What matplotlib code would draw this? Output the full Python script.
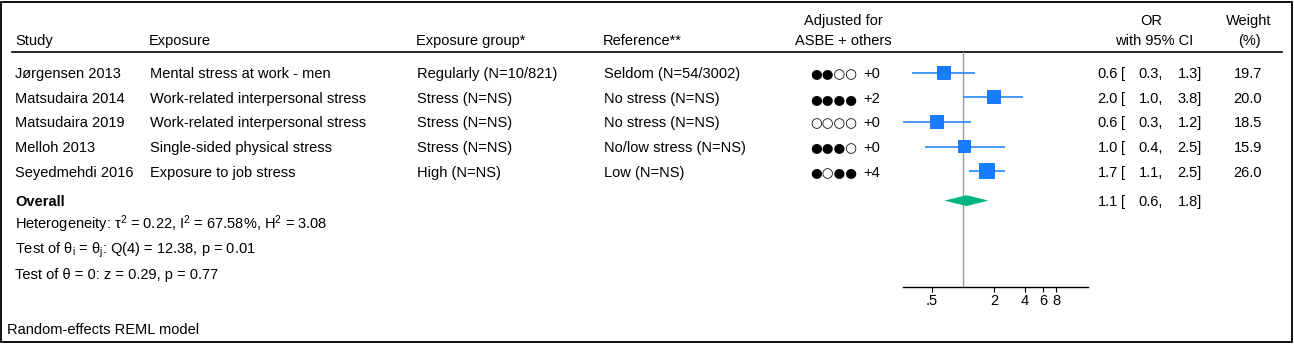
import numpy as np
import matplotlib
matplotlib.use("Agg")
import matplotlib.pyplot as plt
from matplotlib.patches import Rectangle

plt.rcParams['font.family'] = ['Liberation Sans', 'DejaVu Sans']
plt.rcParams['font.size'] = 10.5
plt.rcParams['mathtext.fontset'] = 'custom'
plt.rcParams['mathtext.rm'] = 'Liberation Sans'
plt.rcParams['mathtext.it'] = 'Liberation Sans:italic'

# ==============================
# Data
# ==============================
studies = ["Jørgensen 2013", "Matsudaira 2014", "Matsudaira 2019",
           "Melloh 2013", "Seyedmehdi 2016"]
exposures = ["Mental stress at work - men", "Work-related interpersonal stress",
             "Work-related interpersonal stress", "Single-sided physical stress",
             "Exposure to job stress"]
exp_groups = ["Regularly (N=10/821)", "Stress (N=NS)", "Stress (N=NS)",
              "Stress (N=NS)", "High (N=NS)"]
references = ["Seldom (N=54/3002)", "No stress (N=NS)", "No stress (N=NS)",
              "No/low stress (N=NS)", "Low (N=NS)"]
adj_dots = ["●●○○", "●●●●", "○○○○", "●●●○", "●○●●"]
adj_extra = ["+0", "+2", "+0", "+0", "+4"]

# estimates (log scale)
or_est = [0.65, 1.99, 0.56, 1.04, 1.70]
ci_lo = [0.32, 1.00, 0.26, 0.43, 1.15]
ci_hi = [1.30, 3.85, 1.19, 2.54, 2.54]
weights = [19.7, 20.0, 18.5, 15.9, 26.0]

# printed values
or_txt = ["0.6", "2.0", "0.6", "1.0", "1.7"]
lo_txt = ["0.3", "1.0", "0.3", "0.4", "1.1"]
hi_txt = ["1.3", "3.8", "1.2", "2.5", "2.5"]
wt_txt = ["19.7", "20.0", "18.5", "15.9", "26.0"]

overall_est, overall_lo, overall_hi = 1.08, 0.66, 1.77
overall_txt = ["1.1", "0.6", "1.8"]

xticks = [0.5, 2, 4, 6, 8]
xtick_labels = [".5", "2", "4", "6", "8"]

het_lines = [
    r"Heterogeneity: τ$^{2}$ = 0.22, I$^{2}$ = 67.58%, H$^{2}$ = 3.08",
    r"Test of θ$_{\mathrm{i}}$ = θ$_{\mathrm{j}}$: Q(4) = 12.38, p = 0.01",
    "Test of θ = 0: z = 0.29, p = 0.77",
]

# ==============================
# Layout (pixels)
# ==============================
W, H = 1294, 344
ROW0, ROWH = 72.7, 24.6
OVERALL_ROW = 5.2
BASE = 5.4  # baseline offset below row centre

fig = plt.figure(figsize=(W / 100, H / 100), dpi=100)
bg = fig.add_axes([0, 0, 1, 1])
bg.set_xlim(0, W)
bg.set_ylim(H, 0)
bg.axis("off")

# outer frame
fig.patches.append(Rectangle((1 / W, 2 / H), (W - 3) / W, (H - 4) / H,
                             transform=fig.transFigure, fill=False,
                             edgecolor="black", lw=1.3))

# header
hdr_base = 45
bg.text(15, hdr_base, "Study", va="baseline")
bg.text(149, hdr_base, "Exposure", va="baseline")
bg.text(416, hdr_base, "Exposure group*", va="baseline")
bg.text(603, hdr_base, "Reference**", va="baseline")
bg.text(843, 25, "Adjusted for", va="baseline", ha="center")
bg.text(843, hdr_base, "ASBE + others", va="baseline", ha="center")
bg.text(1151, 25, "OR", va="baseline", ha="center")
bg.text(1154, hdr_base, "with 95% CI", va="baseline", ha="center")
bg.text(1249, 25, "Weight", va="baseline", ha="center")
bg.text(1249, hdr_base, "(%)", va="baseline", ha="center")
bg.plot([12, 1282], [52, 52], color="black", lw=1.2)


def or_cells(y, est, lo, hi):
    bg.text(1118, y, est, va="baseline", ha="right")
    bg.text(1121, y, "[", va="baseline", ha="left")
    bg.text(1163, y, lo + ",", va="baseline", ha="right")
    bg.text(1202, y, hi + "]", va="baseline", ha="right")


for i in range(len(studies)):
    y = ROW0 + i * ROWH + BASE
    bg.text(15, y, studies[i], va="baseline")
    bg.text(150, y, exposures[i], va="baseline")
    bg.text(417, y, exp_groups[i], va="baseline")
    bg.text(604, y, references[i], va="baseline")
    bg.text(857.5, y + 0.3, adj_dots[i], va="baseline", ha="right",
            fontsize=9.7, family="DejaVu Sans")
    bg.text(880, y, adj_extra[i], va="baseline", ha="right")
    or_cells(y, or_txt[i], lo_txt[i], hi_txt[i])
    bg.text(1248, y, wt_txt[i], va="baseline", ha="center")

y_ov = ROW0 + OVERALL_ROW * ROWH + BASE
bg.text(15, y_ov, "Overall", va="baseline", fontweight="bold")
or_cells(y_ov, *overall_txt)

for k, line in enumerate(het_lines):
    bg.text(15, 229 + k * 25, line, va="baseline")

bg.text(7, 334, "Random-effects REML model", va="baseline")

# ==============================
# Forest panel
# ==============================
x0, x1 = 903, 1088
y_top, y_bot = 52, 287.3
px_per_ln = 44.7
ref_px = 963
fa = fig.add_axes([x0 / W, 1 - y_bot / H, (x1 - x0) / W, (y_bot - y_top) / H])
fa.set_xscale("log")
fa.set_xlim(np.exp((x0 - ref_px) / px_per_ln), np.exp((x1 - ref_px) / px_per_ln))
fa.set_ylim((y_bot - ROW0) / ROWH, (y_top - ROW0) / ROWH)
fa.patch.set_alpha(0)

rows = np.arange(len(studies))
fa.axvline(1, color="#9a9a9a", lw=1.0, zorder=1)
fa.hlines(rows, ci_lo, ci_hi, color="#1a7cff", lw=1.1, zorder=2)
sizes = (3.2 * np.sqrt(weights) * 0.72) ** 2
fa.scatter(or_est, rows, s=sizes, marker="s", color="#1a7cff", lw=0, zorder=3)

dh = 0.22
fa.fill([overall_lo, overall_est, overall_hi, overall_est],
        [OVERALL_ROW, OVERALL_ROW - dh, OVERALL_ROW, OVERALL_ROW + dh],
        color="#00b482", lw=0, zorder=3)

for s in ["top", "right", "left"]:
    fa.spines[s].set_visible(False)
fa.spines["bottom"].set_linewidth(1.0)
fa.set_yticks([])
fa.set_xticks(xticks)
fa.set_xticklabels(xtick_labels)
fa.xaxis.set_minor_locator(matplotlib.ticker.NullLocator())
fa.tick_params(axis="x", length=3.6, width=0.8, pad=1.5, labelsize=10.5)

fig.savefig("out.png", dpi=100)
